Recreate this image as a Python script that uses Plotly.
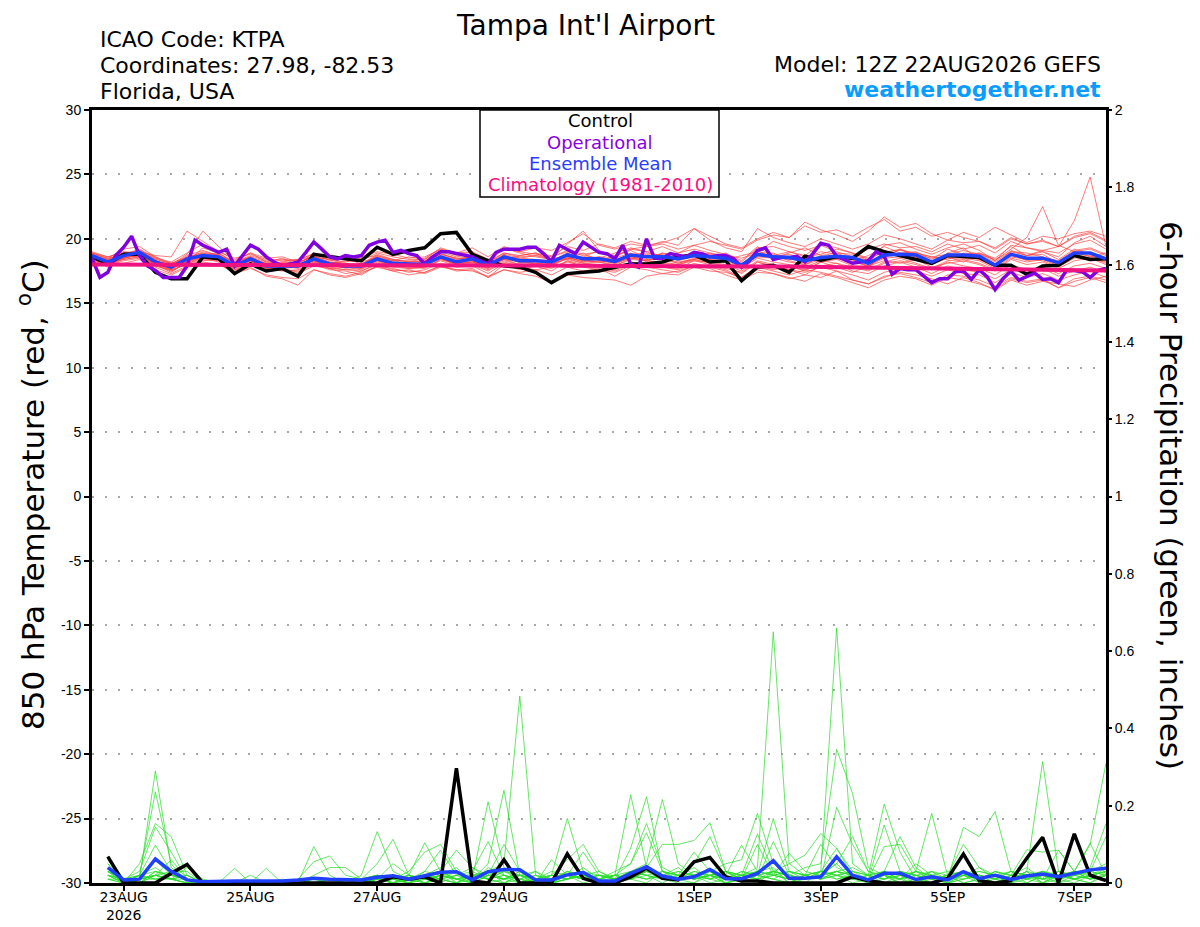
import pandas as pd
import plotly.graph_objects as go

# ---------------- time axes ----------------
run_start = "2026-08-22 12:00"
times_6h = pd.date_range(run_start, periods=65, freq="6h")
times_3h = pd.date_range(run_start, periods=129, freq="3h")
precip_times = times_6h[1:]

tick_dates = ["2026-08-23", "2026-08-25", "2026-08-27", "2026-08-29",
              "2026-09-01", "2026-09-03", "2026-09-05", "2026-09-07"]
tick_labels = ["23AUG<br>2026", "25AUG", "27AUG", "29AUG", "1SEP", "3SEP", "5SEP", "7SEP"]

temp_tick_vals = [30, 25, 20, 15, 10, 5, 0, -5, -10, -15, -20, -25, -30]
temp_tick_text = ["30", "25", "20", "15", "10", "5", "0", "-5", "-10", "-15", "-20", "-25", "-30"]
precip_tick_vals = [0, 0.2, 0.4, 0.6, 0.8, 1.0, 1.2, 1.4, 1.6, 1.8, 2.0]
precip_tick_text = ["0", "0.2", "0.4", "0.6", "0.8", "1", "1.2", "1.4", "1.6", "1.8", "2"]

# ---------------- 850 hPa temperature (deg C) ----------------
temp_control = [
    18.6, 18.05, 18.8, 18.8, 17.4, 16.9, 16.9, 18.6, 18.45, 17.3, 18.05, 17.5, 17.7,
    17.1, 18.8, 18.6, 18.45, 18.3, 19.35, 18.8, 19.1, 19.3, 20.4, 20.5, 18.8, 18.3,
    17.9, 17.8, 17.4, 16.6, 17.3, 17.4, 17.5, 17.8, 18.05, 18.05, 18.2, 18.6, 18.75,
    18.2, 18.3, 16.75, 17.8, 17.95, 17.4, 18.65, 18.35, 18.6, 18.5, 19.4, 19.0, 18.7,
    18.4, 18.1, 18.7, 18.65, 18.55, 17.95, 17.95, 17.25, 17.9, 17.95, 18.7, 18.4, 18.45]

temp_operational = [  # 3-hourly
    18.5, 17.0, 17.4, 18.7, 19.35, 20.2, 18.7, 17.9, 17.55, 17.0, 17.0, 17.0, 17.9,
    19.9, 19.5, 19.2, 18.95, 19.2, 17.9, 18.7, 19.5, 19.2, 18.6, 18.2, 17.9, 18.05,
    18.2, 18.95, 19.75, 19.2, 18.6, 18.45, 18.7, 18.6, 18.7, 19.5, 19.75, 19.9, 18.95,
    19.1, 18.85, 18.7, 18.05, 18.6, 19.0, 19.0, 18.85, 18.7, 18.6, 18.3, 18.05, 18.95,
    19.2, 19.2, 19.2, 19.35, 19.35, 18.85, 18.25, 19.5, 19.2, 18.85, 19.75, 19.35, 18.95,
    18.85, 18.45, 19.5, 18.05, 17.8, 20.0, 18.5, 18.5, 18.85, 18.7, 18.6, 18.95, 18.85,
    18.6, 18.7, 18.7, 18.45, 17.8, 18.3, 19.1, 19.3, 18.4, 18.55, 18.55, 18.65, 18.2,
    18.85, 19.65, 19.5, 18.65, 18.35, 18.1, 18.2, 18.3, 19.0, 18.65, 17.25, 17.7, 17.6,
    17.6, 17.1, 16.6, 16.9, 16.9, 17.45, 17.5, 16.85, 17.6, 17.05, 16.05, 16.9, 17.5,
    16.8, 17.1, 17.35, 16.85, 16.9, 16.6, 17.55, 17.55, 17.45, 17.0, 17.55, 17.7]

temp_mean = [
    18.7, 18.2, 18.7, 18.95, 18.2, 17.8, 18.45, 18.7, 18.6, 17.9, 18.45, 17.9, 17.9,
    17.9, 18.45, 18.05, 17.9, 17.9, 18.45, 18.1, 18.05, 18.0, 18.6, 18.2, 18.45, 17.95,
    18.6, 18.3, 18.3, 18.2, 18.75, 18.45, 18.45, 18.25, 18.75, 18.6, 18.6, 18.45, 18.7,
    18.6, 18.5, 17.95, 18.8, 18.6, 18.55, 18.3, 18.55, 18.65, 18.55, 18.1, 18.75, 18.8,
    18.75, 18.2, 18.75, 18.75, 18.65, 17.95, 18.8, 18.5, 18.5, 18.15, 18.9, 18.9, 18.45]

temp_climatology = [
    18.0, 18.0, 18.0, 18.0, 18.0, 18.0, 18.0, 18.0, 18.0, 18.0, 18.0, 18.0, 18.0,
    18.0, 18.0, 18.0, 18.0, 18.0, 18.0, 17.99, 17.98, 17.97, 17.96, 17.96, 17.95, 17.95,
    17.94, 17.94, 17.93, 17.93, 17.92, 17.92, 17.92, 17.91, 17.91, 17.91, 17.9, 17.9, 17.9,
    17.9, 17.89, 17.89, 17.88, 17.86, 17.85, 17.83, 17.82, 17.8, 17.78, 17.77, 17.75, 17.73,
    17.72, 17.7, 17.69, 17.68, 17.66, 17.65, 17.63, 17.62, 17.6, 17.59, 17.58, 17.56, 17.55]

temp_members = [
    [18.9, 18.5, 19.2, 19.4, 18.6, 18.0, 18.8, 20.6, 19.4, 18.3, 18.9, 18.2, 18.5,
     18.0, 18.9, 18.3, 18.6, 18.0, 18.8, 18.4, 18.2, 18.5, 19.2, 18.7, 19.0, 18.1,
     19.3, 18.9, 18.6, 18.4, 19.6, 20.6, 19.1, 18.6, 19.2, 19.0, 19.4, 18.9, 19.5,
     19.1, 18.8, 18.2, 19.3, 19.4, 19.0, 18.7, 19.6, 19.3, 18.9, 18.4, 19.5, 19.7,
     19.2, 18.8, 19.3, 19.6, 19.1, 18.3, 19.5, 19.3, 19.0, 18.6, 19.7, 20.2, 19.4],
    [18.3, 17.9, 18.1, 18.4, 17.6, 17.2, 17.8, 18.0, 18.1, 17.3, 17.7, 17.2, 17.0,
     16.9, 17.6, 17.3, 17.1, 17.4, 17.8, 17.5, 17.2, 17.4, 17.9, 17.6, 17.5, 17.1,
     17.6, 17.4, 17.6, 17.2, 17.8, 17.5, 17.7, 17.1, 17.8, 17.6, 17.3, 17.5, 17.9,
     17.7, 17.2, 16.8, 17.4, 17.3, 16.9, 17.2, 17.0, 17.5, 16.8, 16.5, 17.1, 17.3,
     17.0, 16.6, 17.2, 17.1, 16.8, 16.3, 17.0, 16.7, 16.9, 16.2, 16.9, 17.1, 16.8],
    [18.5, 18.4, 18.9, 18.7, 18.3, 17.9, 18.2, 19.3, 18.9, 18.1, 18.6, 18.0, 18.2,
     18.1, 18.7, 18.2, 18.1, 17.8, 18.5, 18.3, 18.1, 17.9, 18.9, 18.4, 18.6, 18.0,
     18.4, 18.7, 18.9, 18.3, 18.5, 18.6, 19.1, 18.5, 18.9, 18.2, 18.9, 18.4, 19.0,
     18.8, 18.4, 18.0, 19.1, 18.5, 18.9, 19.3, 18.7, 18.9, 18.4, 17.8, 18.9, 19.2,
     18.6, 18.0, 18.9, 19.3, 18.4, 17.8, 19.1, 18.7, 19.0, 18.4, 19.2, 18.8, 18.3],
    [18.8, 18.1, 18.6, 19.1, 18.4, 17.6, 18.6, 18.9, 18.4, 17.7, 18.2, 17.7, 17.6,
     17.5, 18.2, 17.7, 17.8, 17.6, 18.3, 17.9, 17.7, 17.8, 18.4, 18.1, 18.2, 17.7,
     18.8, 18.1, 18.2, 17.9, 18.9, 18.3, 18.2, 18.0, 18.6, 18.8, 18.5, 18.1, 18.4,
     18.9, 18.7, 17.6, 19.0, 18.8, 18.3, 18.0, 18.6, 18.4, 18.6, 18.3, 19.1, 18.6,
     18.9, 18.6, 18.4, 18.9, 18.8, 18.2, 19.0, 18.7, 19.1, 19.4, 21.4, 24.8, 19.4],
    [18.6, 18.3, 18.5, 18.8, 18.0, 17.7, 18.5, 18.5, 18.8, 17.8, 18.5, 18.1, 17.8,
     17.8, 18.5, 18.1, 17.7, 18.0, 18.6, 18.0, 18.2, 18.1, 18.5, 18.0, 18.5, 17.8,
     18.5, 18.4, 18.0, 18.5, 18.6, 18.2, 18.6, 18.4, 18.5, 18.7, 18.8, 18.3, 18.6,
     18.4, 18.6, 18.1, 18.6, 18.9, 18.4, 18.5, 18.2, 18.9, 18.8, 18.3, 18.5, 19.2,
     18.8, 18.5, 18.6, 18.2, 18.9, 18.3, 19.2, 20.1, 22.5, 19.5, 19.0, 19.2, 18.7],
    [19.0, 18.6, 18.9, 19.0, 18.5, 18.2, 18.9, 19.6, 19.0, 18.5, 18.8, 18.4, 18.3,
     18.4, 18.8, 18.5, 18.4, 18.3, 18.9, 18.6, 18.4, 18.4, 19.3, 18.9, 19.0, 18.4,
     19.2, 19.0, 18.8, 18.7, 19.4, 19.1, 19.6, 19.3, 19.8, 19.5, 19.7, 20.1, 20.8,
     20.2, 19.6, 19.3, 20.0, 20.5, 20.1, 21.3, 20.7, 20.3, 19.8, 20.6, 21.7, 20.9,
     21.2, 20.4, 19.9, 20.5, 20.1, 20.9, 20.3, 19.7, 20.2, 20.0, 20.4, 20.6, 20.2],
    [18.4, 18.0, 18.4, 18.6, 18.1, 17.5, 18.1, 18.4, 18.3, 17.6, 18.0, 17.5, 17.7,
     17.4, 18.0, 17.6, 17.5, 17.2, 17.9, 17.7, 17.4, 17.6, 18.1, 17.8, 17.9, 17.3,
     18.1, 17.8, 17.6, 17.8, 18.2, 17.9, 17.8, 17.5, 18.0, 17.8, 17.6, 17.4, 17.9,
     17.9, 17.6, 17.0, 17.8, 17.5, 17.2, 17.6, 17.4, 17.1, 16.8, 16.5, 17.0, 17.4,
     17.2, 16.9, 16.5, 17.0, 16.6, 16.0, 16.8, 16.4, 16.7, 16.5, 16.3, 16.8, 17.1],
    [18.7, 18.3, 18.8, 19.2, 18.5, 17.9, 18.7, 19.1, 18.7, 18.2, 18.6, 17.8, 18.0,
     18.2, 18.6, 18.4, 18.0, 17.7, 18.3, 18.2, 17.9, 18.3, 18.8, 18.5, 18.3, 17.8,
     18.6, 18.5, 18.7, 18.4, 18.4, 18.9, 18.3, 18.7, 19.1, 18.5, 18.9, 18.7, 18.8,
     18.5, 18.9, 18.3, 19.4, 18.6, 18.8, 18.4, 19.0, 18.8, 18.3, 18.7, 19.4, 18.9,
     19.0, 18.4, 19.2, 18.8, 18.9, 18.5, 19.4, 18.7, 18.8, 18.1, 19.0, 18.6, 18.9],
    [18.5, 17.9, 18.3, 18.5, 17.8, 17.3, 17.9, 18.2, 18.0, 17.4, 17.8, 17.1, 16.9,
     16.4, 17.6, 17.2, 17.0, 17.3, 17.9, 17.5, 17.6, 17.3, 17.8, 17.6, 17.7, 17.0,
     18.0, 17.6, 17.9, 17.5, 18.3, 17.8, 17.6, 17.4, 17.9, 18.2, 17.8, 17.7, 18.3,
     18.0, 17.7, 17.4, 18.2, 17.8, 17.6, 17.2, 17.9, 18.1, 17.5, 17.3, 17.9, 18.2,
     17.8, 17.3, 17.9, 17.6, 17.4, 16.9, 17.6, 17.3, 17.7, 17.1, 17.5, 17.8, 17.4],
    [18.9, 18.4, 18.6, 19.0, 18.7, 18.6, 20.6, 19.8, 19.0, 18.4, 18.9, 18.5, 18.6,
     18.2, 18.6, 18.4, 18.2, 18.5, 18.7, 18.3, 18.6, 18.4, 19.0, 18.6, 18.8, 18.2,
     18.9, 18.7, 18.9, 18.6, 19.0, 18.7, 18.5, 18.9, 19.3, 19.0, 18.6, 18.9, 19.2,
     18.9, 18.4, 18.7, 19.0, 19.8, 19.4, 19.1, 19.5, 19.0, 18.6, 19.2, 19.6, 19.3,
     19.4, 19.0, 19.6, 19.2, 19.5, 18.9, 19.8, 19.3, 19.1, 18.9, 19.6, 19.9, 19.2],
    [18.6, 18.1, 18.5, 18.8, 18.2, 17.9, 18.3, 18.6, 18.5, 18.0, 18.3, 17.8, 18.1,
     18.0, 18.3, 17.9, 17.8, 18.1, 18.4, 18.0, 17.8, 18.2, 18.5, 18.1, 18.2, 17.9,
     18.4, 18.2, 18.1, 18.0, 18.5, 18.3, 18.4, 18.1, 18.5, 18.4, 18.5, 18.2, 18.4,
     18.3, 18.2, 17.7, 18.5, 18.2, 18.0, 17.8, 18.3, 18.1, 17.8, 17.5, 18.1, 18.3,
     18.0, 17.6, 18.2, 17.9, 17.7, 17.2, 18.0, 17.6, 17.8, 17.3, 17.9, 18.1, 17.7],
    [18.8, 18.2, 18.4, 18.6, 17.9, 17.6, 18.0, 18.3, 18.4, 17.5, 18.1, 17.6, 17.6,
     17.3, 17.9, 17.7, 17.3, 17.5, 18.0, 17.6, 17.5, 17.4, 17.9, 17.5, 17.6, 17.0,
     17.6, 17.3, 17.1, 16.6, 17.2, 17.0, 16.9, 16.8, 16.4, 17.1, 17.3, 17.2, 17.8,
     17.5, 17.4, 17.0, 17.9, 17.6, 17.9, 17.5, 18.2, 17.8, 17.4, 17.9, 18.3, 18.1,
     18.4, 17.8, 18.1, 18.3, 18.0, 17.5, 18.4, 18.0, 18.2, 17.7, 18.3, 18.5, 18.2],
    [18.7, 18.4, 18.9, 19.0, 18.4, 18.1, 18.6, 18.8, 18.9, 18.2, 18.7, 18.3, 18.4,
     18.3, 18.9, 18.6, 18.4, 18.6, 19.0, 18.8, 18.5, 18.6, 19.2, 18.9, 19.3, 18.6,
     19.4, 19.0, 19.3, 19.1, 19.7, 20.4, 19.5, 19.2, 19.6, 19.4, 19.8, 19.5, 20.8,
     19.9, 19.3, 19.0, 20.8, 20.1, 19.7, 19.4, 20.0, 19.6, 19.2, 19.6, 20.3, 20.0,
     19.6, 19.2, 19.9, 19.7, 19.8, 19.3, 20.1, 19.6, 19.8, 19.4, 20.2, 20.5, 19.9],
    [18.5, 18.0, 18.7, 18.6, 18.0, 17.4, 18.2, 18.5, 18.2, 17.7, 18.3, 17.7, 17.9,
     17.7, 18.3, 17.8, 17.6, 17.7, 18.2, 17.9, 17.8, 17.7, 18.4, 18.0, 18.1, 17.6,
     18.3, 18.0, 17.9, 18.1, 18.4, 18.1, 18.0, 17.9, 18.5, 18.3, 18.1, 18.0, 18.3,
     18.2, 18.0, 17.5, 18.3, 18.0, 17.8, 17.6, 18.2, 18.4, 17.9, 17.6, 18.2, 18.5,
     18.1, 17.7, 18.3, 18.4, 18.1, 17.6, 18.5, 18.2, 18.4, 17.9, 18.7, 18.5, 18.0],
    [18.9, 18.6, 19.0, 18.9, 18.3, 18.0, 18.5, 19.0, 18.7, 18.1, 18.5, 18.1, 18.2,
     18.4, 18.6, 18.1, 18.3, 18.2, 18.6, 18.3, 18.3, 18.2, 18.7, 18.4, 18.6, 18.1,
     18.8, 18.5, 18.4, 18.3, 18.9, 18.5, 18.6, 18.3, 18.8, 18.9, 18.7, 18.6, 18.9,
     18.7, 18.7, 18.5, 18.9, 18.7, 19.0, 18.6, 18.8, 19.2, 18.9, 18.5, 19.0, 19.1,
     18.9, 18.6, 18.8, 19.1, 18.8, 18.4, 19.0, 18.9, 18.6, 18.3, 19.1, 19.3, 18.8],
    [18.4, 17.8, 18.5, 18.7, 17.9, 17.5, 18.1, 18.5, 18.4, 17.6, 18.2, 17.7, 17.5,
     17.6, 18.1, 17.7, 17.6, 17.5, 18.1, 17.8, 17.7, 17.8, 18.3, 17.9, 18.0, 17.5,
     18.2, 17.9, 18.0, 17.7, 18.3, 18.0, 17.9, 17.6, 18.2, 18.0, 17.8, 17.6, 18.1,
     17.8, 17.5, 16.9, 17.6, 17.3, 17.0, 16.7, 17.3, 17.0, 16.6, 16.2, 16.8, 17.1,
     16.9, 16.4, 17.0, 16.8, 16.5, 16.1, 16.9, 16.6, 16.8, 16.2, 16.7, 17.0, 16.6],
    [18.6, 18.2, 18.8, 19.0, 18.3, 17.8, 18.3, 18.9, 18.6, 18.0, 18.4, 18.0, 17.9,
     18.0, 18.5, 18.0, 17.9, 17.9, 18.6, 18.0, 18.0, 18.1, 18.6, 18.2, 18.3, 17.9,
     18.7, 18.2, 18.3, 18.2, 18.8, 18.4, 18.2, 18.3, 18.7, 18.6, 18.5, 18.5, 18.7,
     18.6, 18.4, 17.9, 18.7, 18.7, 18.5, 18.1, 18.5, 18.7, 18.4, 17.9, 18.6, 18.8,
     18.6, 18.1, 18.7, 18.6, 18.4, 17.9, 18.8, 18.3, 18.5, 18.0, 18.8, 18.7, 18.3],
    [18.8, 18.5, 18.8, 19.1, 18.6, 18.1, 18.5, 18.8, 18.8, 18.1, 18.6, 18.2, 18.1,
     18.2, 18.6, 18.2, 18.1, 18.0, 18.7, 18.4, 18.2, 18.3, 18.8, 18.5, 18.6, 18.2,
     18.9, 18.6, 18.7, 18.6, 19.1, 18.8, 19.0, 18.7, 19.2, 19.4, 19.6, 19.2, 19.5,
     19.8, 19.5, 19.2, 19.9, 20.3, 20.1, 21.0, 20.5, 20.7, 20.2, 20.9, 21.5, 20.6,
     20.9, 20.2, 20.5, 20.1, 19.8, 19.2, 20.0, 19.6, 19.9, 19.4, 20.1, 20.4, 19.8],
    [18.2, 17.9, 18.6, 18.8, 18.0, 17.7, 18.2, 18.6, 18.5, 17.8, 18.3, 17.8, 17.7,
     17.8, 18.2, 17.9, 17.8, 17.9, 18.3, 18.0, 17.9, 18.0, 18.5, 18.1, 18.3, 17.8,
     18.5, 18.2, 18.3, 18.0, 18.6, 18.2, 18.3, 18.1, 18.6, 18.4, 18.4, 18.1, 18.5,
     18.4, 18.3, 17.8, 18.6, 18.5, 18.2, 18.0, 18.4, 18.5, 18.2, 17.9, 18.5, 18.6,
     18.5, 18.0, 18.5, 18.5, 18.3, 17.7, 18.6, 18.4, 18.3, 17.8, 18.5, 18.6, 18.1],
    [18.7, 18.0, 18.5, 18.8, 18.1, 17.6, 18.3, 18.6, 18.4, 17.8, 18.3, 17.9, 17.8,
     17.8, 18.3, 17.9, 17.8, 17.8, 18.4, 18.0, 17.9, 17.9, 18.5, 18.0, 18.2, 17.7,
     18.4, 18.0, 18.1, 17.9, 18.5, 18.1, 18.2, 17.9, 18.4, 18.3, 18.2, 18.0, 18.4,
     18.1, 17.9, 17.3, 18.2, 17.9, 17.6, 17.4, 17.8, 17.5, 17.2, 16.8, 17.4, 17.7,
     17.5, 17.1, 17.6, 17.3, 17.2, 16.6, 17.4, 17.0, 17.3, 16.8, 17.2, 17.5, 17.0],
]

# ---------------- 6-hour precipitation (inches) ----------------
precip_control = [
    0.068, 0, 0, 0, 0.025, 0.048, 0, 0, 0, 0, 0, 0, 0, 0, 0, 0,
    0, 0, 0.016, 0.01, 0.016, 0, 0.297, 0.005, 0, 0.06, 0, 0, 0, 0.075, 0.012, 0,
    0, 0.016, 0.038, 0.012, 0.008, 0.055, 0.066, 0.016, 0.005, 0.005, 0, 0, 0, 0, 0, 0.016,
    0.006, 0, 0, 0, 0, 0.012, 0.075, 0.006, 0, 0.006, 0.064, 0.118, 0, 0.127, 0.02, 0.006]

precip_mean = [
    0.04, 0.008, 0.01, 0.062, 0.03, 0.008, 0.003, 0.005, 0.005, 0.005, 0.005, 0.005, 0.008, 0.012, 0.01, 0.008,
    0.008, 0.015, 0.019, 0.01, 0.018, 0.028, 0.029, 0.008, 0.029, 0.035, 0.034, 0.008, 0.008, 0.021, 0.027, 0.005,
    0.005, 0.025, 0.042, 0.018, 0.01, 0.016, 0.035, 0.011, 0.011, 0.025, 0.058, 0.012, 0.012, 0.016, 0.068, 0.02,
    0.008, 0.025, 0.025, 0.009, 0.016, 0.008, 0.029, 0.012, 0.02, 0.009, 0.018, 0.023, 0.016, 0.025, 0.034, 0.038]

precip_members = [
    [0.05, 0, 0.01, 0.29, 0.04, 0.01, 0, 0, 0, 0, 0, 0, 0, 0.01, 0, 0,
     0, 0.01, 0.02, 0, 0.03, 0.085, 0.02, 0, 0, 0.01, 0.03, 0, 0, 0.02, 0.01, 0,
     0, 0.02, 0.04, 0.01, 0, 0, 0.03, 0, 0.02, 0.127, 0.03, 0, 0.01, 0.02, 0.05, 0.01,
     0, 0.03, 0.01, 0, 0.02, 0, 0.03, 0.01, 0, 0.02, 0.04, 0.01, 0, 0.02, 0.03, 0.05],
    [0.07, 0.01, 0.02, 0.236, 0.05, 0, 0, 0, 0, 0, 0, 0, 0, 0, 0.01, 0,
     0.01, 0, 0.01, 0.02, 0, 0.01, 0.03, 0.01, 0.21, 0.04, 0, 0.01, 0, 0.03, 0.02, 0,
     0.01, 0.03, 0.02, 0, 0.02, 0.04, 0.01, 0, 0.01, 0.1, 0.02, 0.01, 0, 0.03, 0.02, 0,
     0.01, 0.02, 0, 0.03, 0.01, 0, 0.02, 0.04, 0.01, 0, 0.03, 0.02, 0.01, 0, 0.02, 0.04],
    [0.03, 0, 0.05, 0.154, 0.12, 0.02, 0, 0, 0, 0, 0, 0, 0.01, 0, 0, 0,
     0.01, 0.02, 0, 0.01, 0.02, 0.04, 0, 0.02, 0.03, 0, 0.01, 0, 0.01, 0.03, 0.02, 0.01,
     0.02, 0.05, 0.13, 0.03, 0.01, 0.02, 0, 0.01, 0.03, 0.02, 0.01, 0, 0.02, 0.03, 0.01, 0.02,
     0, 0.01, 0.03, 0.01, 0, 0.01, 0.02, 0, 0.03, 0.01, 0, 0.02, 0.01, 0.03, 0.02, 0.01],
    [0.02, 0.01, 0.03, 0.145, 0.08, 0.01, 0, 0, 0, 0, 0, 0.01, 0, 0, 0, 0,
     0, 0.01, 0, 0, 0.01, 0.02, 0.04, 0, 0.02, 0.03, 0.01, 0, 0.02, 0.01, 0.03, 0,
     0.01, 0.02, 0.04, 0.1, 0.1, 0.11, 0.156, 0.03, 0, 0.02, 0.01, 0, 0.02, 0.01, 0.03, 0.02,
     0.01, 0, 0.02, 0.01, 0.03, 0, 0.01, 0.02, 0, 0.01, 0.03, 0, 0.02, 0.01, 0, 0.03],
    [0.04, 0, 0.02, 0.098, 0.03, 0.03, 0, 0, 0, 0, 0, 0, 0, 0.01, 0, 0,
     0, 0, 0.01, 0, 0.02, 0.01, 0, 0.03, 0.107, 0.02, 0, 0.01, 0, 0.01, 0.04, 0.01,
     0, 0.01, 0.02, 0.03, 0.01, 0, 0.02, 0, 0.01, 0.03, 0.04, 0, 0.02, 0.03, 0.66, 0.05,
     0.02, 0, 0.01, 0.02, 0, 0.01, 0.03, 0.02, 0, 0.01, 0.02, 0, 0.03, 0.01, 0.02, 0.03],
    [0.03, 0.01, 0.01, 0.06, 0.02, 0.01, 0, 0, 0, 0, 0.038, 0, 0, 0, 0, 0,
     0.01, 0.02, 0, 0.01, 0.03, 0.02, 0.01, 0, 0.04, 0.02, 0.01, 0.03, 0, 0.01, 0.02, 0,
     0.01, 0.02, 0.03, 0.01, 0.02, 0.08, 0.03, 0.01, 0.02, 0.01, 0.03, 0.02, 0.04, 0.05, 0.346, 0.232,
     0.04, 0.02, 0.01, 0.03, 0.02, 0, 0.01, 0.02, 0.01, 0.03, 0, 0.02, 0.01, 0.03, 0.01, 0.02],
    [0.02, 0, 0.02, 0.04, 0.01, 0.02, 0, 0, 0, 0, 0, 0, 0, 0, 0.01, 0,
     0, 0.01, 0, 0.02, 0.01, 0.03, 0, 0.01, 0.05, 0.24, 0.02, 0, 0.01, 0.02, 0, 0.01,
     0.02, 0.01, 0.03, 0.02, 0.04, 0.01, 0.02, 0, 0.01, 0.02, 0.01, 0.03, 0.02, 0.01, 0.196, 0.1,
     0.03, 0.01, 0.02, 0, 0.01, 0.02, 0, 0.01, 0.03, 0.02, 0.01, 0, 0.02, 0.01, 0.03, 0.02],
    [0.05, 0.01, 0, 0.03, 0.02, 0.01, 0, 0, 0, 0, 0, 0, 0, 0, 0, 0.01,
     0, 0.02, 0.01, 0, 0.01, 0.02, 0.03, 0.01, 0.02, 0.1, 0.03, 0.01, 0, 0.02, 0.01, 0.02,
     0.01, 0.03, 0.02, 0.01, 0.03, 0.02, 0.01, 0.03, 0.02, 0.04, 0.65, 0.05, 0.02, 0.01, 0.03, 0.02,
     0.01, 0.02, 0, 0.01, 0.02, 0.01, 0.03, 0, 0.01, 0.02, 0.01, 0.02, 0, 0.01, 0.02, 0.03],
    [0.03, 0, 0.01, 0.02, 0.06, 0.01, 0, 0, 0, 0, 0, 0, 0, 0, 0, 0,
     0.01, 0, 0.02, 0.01, 0, 0.02, 0.01, 0.02, 0.03, 0.05, 0.484, 0.02, 0.01, 0.03, 0.01, 0,
     0.02, 0.01, 0, 0.03, 0.02, 0.01, 0.02, 0.03, 0.01, 0, 0.03, 0.02, 0.01, 0.02, 0.03, 0.04,
     0.02, 0.204, 0.08, 0.01, 0, 0.01, 0.02, 0.01, 0.02, 0, 0.01, 0.03, 0.02, 0.01, 0, 0.02],
    [0.06, 0.01, 0.02, 0.03, 0.01, 0.04, 0.01, 0, 0, 0, 0, 0, 0, 0, 0, 0,
     0, 0.01, 0, 0.02, 0.01, 0, 0.02, 0.03, 0.01, 0.02, 0.01, 0, 0.06, 0.02, 0.01, 0.02,
     0.01, 0.02, 0.01, 0.03, 0.02, 0.01, 0.02, 0.01, 0.03, 0.02, 0.167, 0.03, 0.02, 0.01, 0.02, 0.03,
     0.01, 0.15, 0.03, 0.02, 0.01, 0, 0.02, 0.01, 0, 0.02, 0.01, 0.02, 0.03, 0.01, 0.02, 0.01],
    [0.04, 0, 0.01, 0.02, 0.01, 0, 0, 0, 0.038, 0, 0, 0, 0, 0, 0, 0,
     0.01, 0.02, 0.01, 0, 0.02, 0.01, 0, 0.02, 0.01, 0.03, 0.02, 0.01, 0.02, 0.167, 0.03, 0.01,
     0.02, 0.01, 0.03, 0.02, 0.01, 0.02, 0.03, 0.01, 0.02, 0.01, 0.107, 0.02, 0.01, 0.03, 0.02, 0.01,
     0.02, 0.03, 0.12, 0.04, 0.01, 0.02, 0, 0.01, 0.02, 0.01, 0.03, 0, 0.01, 0.02, 0.01, 0.02],
    [0.02, 0.01, 0, 0.03, 0.02, 0.01, 0, 0, 0, 0.02, 0, 0, 0, 0, 0, 0,
     0, 0.01, 0.02, 0.01, 0, 0.02, 0.01, 0, 0.02, 0.01, 0.03, 0.01, 0.02, 0.06, 0.1, 0.03,
     0.01, 0.02, 0.01, 0.02, 0.01, 0.03, 0.02, 0.01, 0.02, 0.03, 0.02, 0.077, 0.03, 0.02, 0.01, 0.02,
     0.01, 0.02, 0.01, 0.03, 0.18, 0.02, 0.01, 0.02, 0.01, 0, 0.02, 0.01, 0.02, 0.03, 0.01, 0.02],
    [0.03, 0.01, 0.01, 0.02, 0.03, 0.01, 0, 0, 0, 0, 0, 0, 0, 0.094, 0.02, 0,
     0, 0.01, 0, 0.02, 0.01, 0.03, 0.01, 0.02, 0.01, 0, 0.02, 0.01, 0.03, 0.02, 0.08, 0.02,
     0.01, 0.03, 0.02, 0.01, 0.02, 0.01, 0.03, 0.02, 0.01, 0.02, 0.03, 0.05, 0.072, 0.128, 0.09, 0.03,
     0.02, 0.01, 0.03, 0.02, 0.01, 0.02, 0.03, 0.01, 0, 0.02, 0.01, 0.03, 0.02, 0.01, 0.02, 0.03],
    [0.02, 0, 0.02, 0.01, 0.02, 0.01, 0, 0, 0, 0, 0, 0, 0.01, 0.055, 0.07, 0.02,
     0.01, 0, 0.01, 0.02, 0, 0.01, 0.02, 0.01, 0.03, 0.01, 0.02, 0, 0.01, 0.02, 0.03, 0.01,
     0.02, 0.228, 0.04, 0.02, 0.01, 0.03, 0.02, 0.01, 0.02, 0.03, 0.02, 0.01, 0.02, 0.1, 0.04, 0.02,
     0.01, 0.03, 0.02, 0.01, 0.03, 0.02, 0.1, 0.04, 0.02, 0.01, 0.02, 0.03, 0.01, 0.02, 0.03, 0.02],
    [0.01, 0.01, 0, 0.02, 0.01, 0, 0, 0, 0, 0, 0, 0, 0, 0.02, 0.04, 0.04,
     0.01, 0.02, 0.01, 0, 0.02, 0.01, 0.02, 0.04, 0.01, 0.02, 0.01, 0.02, 0, 0.01, 0.02, 0.03,
     0.01, 0.09, 0.223, 0.03, 0.02, 0.01, 0.02, 0.03, 0.01, 0.02, 0.03, 0.02, 0.01, 0.03, 0.09, 0.02,
     0.01, 0.094, 0.1, 0.03, 0.02, 0.01, 0.144, 0.12, 0.185, 0.03, 0.02, 0.01, 0.02, 0.03, 0.01, 0.02],
    [0.02, 0.01, 0.01, 0.01, 0.02, 0.01, 0, 0, 0, 0, 0, 0, 0, 0, 0, 0,
     0.02, 0.133, 0.03, 0.01, 0.02, 0.01, 0, 0.02, 0.01, 0.03, 0.02, 0.01, 0.02, 0.01, 0.02, 0.01,
     0.03, 0.05, 0.154, 0.04, 0.02, 0.01, 0.02, 0.03, 0.01, 0.02, 0.03, 0.02, 0.01, 0.02, 0.05, 0.12,
     0.03, 0.02, 0.01, 0.02, 0.03, 0.01, 0.02, 0.03, 0.02, 0.01, 0.03, 0.314, 0.03, 0.02, 0.01, 0.04],
    [0.01, 0, 0.02, 0.01, 0.01, 0.02, 0, 0, 0, 0, 0, 0, 0, 0, 0, 0,
     0.01, 0.05, 0.113, 0.02, 0.01, 0.02, 0.01, 0, 0.02, 0.01, 0.02, 0.03, 0.01, 0.02, 0.01, 0.02,
     0.02, 0.03, 0.05, 0.216, 0.05, 0.02, 0.01, 0.03, 0.02, 0.01, 0.02, 0.03, 0.01, 0.02, 0.03, 0.02,
     0.01, 0.02, 0.03, 0.01, 0.02, 0.03, 0.02, 0.01, 0.03, 0.02, 0.086, 0.08, 0.085, 0.03, 0.103, 0.02],
    [0.03, 0.01, 0, 0.02, 0.01, 0, 0, 0, 0, 0, 0, 0, 0, 0, 0, 0,
     0, 0.01, 0.05, 0.02, 0.104, 0.03, 0.01, 0.02, 0.01, 0, 0.02, 0.01, 0.02, 0.01, 0.03, 0.02,
     0.01, 0.02, 0.03, 0.02, 0.01, 0.05, 0.12, 0.03, 0.02, 0.01, 0.02, 0.03, 0.02, 0.01, 0.02, 0.03,
     0.02, 0.01, 0.02, 0.03, 0.01, 0.02, 0.03, 0.02, 0.01, 0.03, 0.02, 0.01, 0.085, 0.03, 0.1, 0.31],
    [0.02, 0, 0.01, 0.02, 0.01, 0.01, 0, 0, 0, 0, 0, 0, 0, 0, 0, 0,
     0.01, 0.02, 0.01, 0.03, 0.08, 0.1, 0.03, 0.01, 0.02, 0.01, 0, 0.02, 0.01, 0.02, 0.01, 0.02,
     0.01, 0.02, 0.01, 0.02, 0.03, 0.02, 0.01, 0.02, 0.098, 0.03, 0.02, 0.01, 0.02, 0.03, 0.02, 0.01,
     0.02, 0.01, 0.03, 0.02, 0.01, 0.02, 0.03, 0.01, 0.02, 0.03, 0.02, 0.01, 0.03, 0.02, 0.04, 0.154],
    [0.01, 0, 0.01, 0.02, 0.01, 0, 0, 0, 0, 0, 0, 0, 0, 0, 0, 0,
     0, 0.01, 0.02, 0.01, 0.02, 0.03, 0.085, 0.04, 0.02, 0.01, 0.02, 0.01, 0, 0.01, 0.02, 0.01,
     0.02, 0.01, 0.03, 0.02, 0.01, 0.02, 0.03, 0.05, 0.06, 0.18, 0.05, 0.02, 0.01, 0.02, 0.03, 0.01,
     0.02, 0.03, 0.01, 0.05, 0.02, 0.01, 0.02, 0.03, 0.02, 0.01, 0.02, 0.03, 0.01, 0.02, 0.03, 0.12],
]

# ---------------- text ----------------
title_text = "Tampa Int'l Airport"
info_lines = ["ICAO Code: KTPA", "Coordinates: 27.98, -82.53", "Florida, USA"]
model_text = "Model: 12Z 22AUG2026 GEFS"
site_text = "weathertogether.net"
legend_entries = ["Control", "Operational", "Ensemble Mean", "Climatology (1981-2010)"]
left_title = "850 hPa Temperature (red, <sup>o</sup>C)"
right_title = "6-hour Precipitation (green, inches)"

# ---------------- styles ----------------
FONT = "Liberation Sans, Arial, Helvetica, sans-serif"
TFONT = "DejaVu Sans, Liberation Sans, sans-serif"
C_RED = "rgba(255,60,60,0.85)"
C_GREEN = "rgba(40,220,40,0.9)"
C_CTRL = "#000000"
C_OPER = "#8000e0"
C_MEAN = "#2040ff"
C_CLIM = "#f0127f"

fig = go.Figure()

for m in temp_members:
    fig.add_trace(go.Scatter(x=times_6h, y=m, mode="lines",
                             line=dict(color=C_RED, width=0.8), hoverinfo="skip"))
fig.add_trace(go.Scatter(x=times_6h, y=temp_control, mode="lines",
                         line=dict(color=C_CTRL, width=3.5)))
fig.add_trace(go.Scatter(x=times_3h, y=temp_operational, mode="lines",
                         line=dict(color=C_OPER, width=3.5)))
fig.add_trace(go.Scatter(x=times_6h, y=temp_mean, mode="lines",
                         line=dict(color=C_MEAN, width=3.5)))
fig.add_trace(go.Scatter(x=times_6h, y=temp_climatology, mode="lines",
                         line=dict(color=C_CLIM, width=4)))

for m in precip_members:
    fig.add_trace(go.Scatter(x=precip_times, y=m, mode="lines", yaxis="y2",
                             line=dict(color=C_GREEN, width=0.8), hoverinfo="skip"))
fig.add_trace(go.Scatter(x=precip_times, y=precip_control, mode="lines", yaxis="y2",
                         line=dict(color=C_CTRL, width=3.5)))
fig.add_trace(go.Scatter(x=precip_times, y=precip_mean, mode="lines", yaxis="y2",
                         line=dict(color=C_MEAN, width=3.5)))

# Target plot area on screen: 92..1106 px wide, 110..883 px tall.
PL, PR, PT, PB = 92, 1106, 110, 883
def px(xp):
    return (xp - PL) / (PR - PL)
def py(yp):
    return (PB - yp) / (PB - PT)

# the page shows the figure offset by 8 px (page margin); margins compensate
OFF = 8
W, H = 1200, 927
M_L = PL - OFF
M_R = W - (PR - OFF)
M_T = PT - OFF
M_B = H - (PB - OFF)

ann = []
ann.append(dict(text=title_text, x=px(585), y=py(25), font=dict(size=28, color="black", family=TFONT)))
for txt, yy in zip(info_lines, [40, 66, 92]):
    ann.append(dict(text=txt, x=px(98), y=py(yy), xanchor="left",
                    font=dict(size=22, color="black", family=TFONT)))
ann.append(dict(text=model_text, x=px(1103), y=py(64), xanchor="right",
                font=dict(size=22, color="black", family=TFONT)))
ann.append(dict(text="<b>" + site_text + "</b>", x=px(1103), y=py(89), xanchor="right",
                font=dict(size=22, color="#0a9dff", family=TFONT)))
for txt, col, yy in zip(legend_entries, [C_CTRL, "#8a00e6", "#2a3cff", "#ff0a84"], [121, 142, 163, 185]):
    ann.append(dict(text=txt, x=px(600), y=py(yy), font=dict(size=18, color=col, family=TFONT)))
ann.append(dict(text=left_title, x=px(31), y=py(495), textangle=-90,
                font=dict(size=31, color="black", family=TFONT)))
ann.append(dict(text=right_title, x=px(1171), y=py(495), textangle=90,
                font=dict(size=31, color="black", family=TFONT)))
for a in ann:
    a.setdefault("xanchor", "center")
    a.update(xref="paper", yref="paper", yanchor="middle", showarrow=False)

fig.update_layout(
    width=W, height=H,
    margin=dict(l=M_L, r=M_R, t=M_T, b=M_B, autoexpand=False),
    paper_bgcolor="white", plot_bgcolor="white",
    font=dict(family=FONT, color="black"),
    showlegend=False,
    annotations=ann,
    shapes=[dict(type="rect", xref="paper", yref="paper",
                 x0=px(480), x1=px(719), y0=py(197), y1=py(PT),
                 line=dict(color="black", width=1.5), fillcolor="white", layer="above")],
    xaxis=dict(range=["2026-08-22 12:00", "2026-09-07 12:00"], type="date",
               tickvals=tick_dates, ticktext=tick_labels, ticks="outside", ticklen=5,
               tickwidth=1.5, tickcolor="black", tickfont=dict(size=14, family=TFONT),
               ticklabelstandoff=-6,
               showline=True, linewidth=3, linecolor="black", mirror=True,
               showgrid=False, zeroline=False, automargin=False),
    yaxis=dict(range=[-30, 30], tickvals=temp_tick_vals, ticktext=temp_tick_text,
               ticks="outside", ticklen=5, tickwidth=1.5, tickcolor="black",
               tickfont=dict(size=14), showline=True, linewidth=3, linecolor="black",
               mirror=True, showgrid=True, gridcolor="#a8a8a8", griddash="2px,11px",
               gridwidth=2, zeroline=False, automargin=False),
    yaxis2=dict(range=[0, 2], overlaying="y", side="right",
                tickvals=precip_tick_vals, ticktext=precip_tick_text,
                ticks="outside", ticklen=5, tickwidth=1.5, tickcolor="black",
                tickfont=dict(size=14), showgrid=False, zeroline=False, showline=False,
                automargin=False),
)

fig.write_html("out.html")
